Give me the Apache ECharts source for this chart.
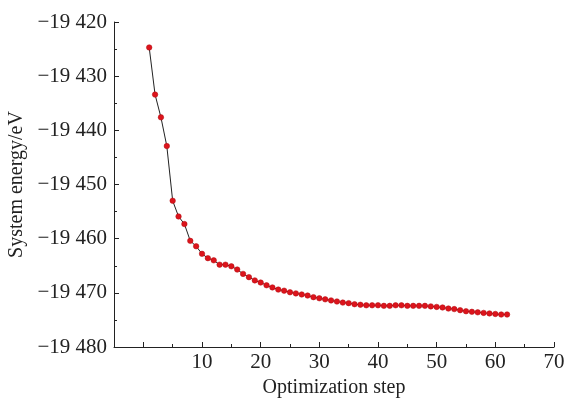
<!DOCTYPE html>
<html>
<head>
<meta charset="utf-8">
<script src="https://cdn.jsdelivr.net/npm/echarts@6/dist/echarts.min.js"></script>
<style>
  html, body { margin: 0; padding: 0; background: #fff; }
  #chart { width: 569px; height: 399px; }
</style>
</head>
<body>
<div id="chart"></div>
<script>
// optimization steps 1..62
const steps = [
  1, 2, 3, 4, 5, 6, 7, 8, 9, 10,
  11, 12, 13, 14, 15, 16, 17, 18, 19, 20,
  21, 22, 23, 24, 25, 26, 27, 28, 29, 30,
  31, 32, 33, 34, 35, 36, 37, 38, 39, 40,
  41, 42, 43, 44, 45, 46, 47, 48, 49, 50,
  51, 52, 53, 54, 55, 56, 57, 58, 59, 60,
  61, 62
]
// system energy, eV
const energy = [
  -19424.7, -19433.4, -19437.6, -19442.9, -19453.0, -19455.9, -19457.3, -19460.4, -19461.4, -19462.8,
  -19463.6, -19464.0, -19464.8, -19464.8, -19465.1, -19465.7, -19466.5, -19467.1, -19467.7, -19468.1,
  -19468.6, -19469.0, -19469.4, -19469.6, -19469.9, -19470.1, -19470.3, -19470.5, -19470.8, -19471.0,
  -19471.2, -19471.4, -19471.6, -19471.8, -19471.9, -19472.1, -19472.2, -19472.3, -19472.3, -19472.3,
  -19472.4, -19472.4, -19472.3, -19472.3, -19472.4, -19472.4, -19472.4, -19472.4, -19472.5, -19472.6,
  -19472.7, -19472.9, -19473.0, -19473.2, -19473.4, -19473.5, -19473.6, -19473.7, -19473.8, -19473.9,
  -19474.0, -19474.0
]
const xMajorTicks = [0, 10, 20, 30, 40, 50, 60, 70]
const xMinorTicks = [5, 15, 25, 35, 45, 55, 65]
const xLabels = [10, 20, 30, 40, 50, 60, 70]

const font = 'Liberation Serif'
const ink = '#222'

const fmtEnergy = (v) => {
  const a = Math.abs(Math.round(v)).toString()
  return '\u2212' + a.slice(0, 2) + ' ' + a.slice(2)
}

const chart = echarts.init(document.getElementById('chart'), null, { renderer: 'canvas' })
chart.setOption({
  animation: false,
  backgroundColor: '#fff',
  grid: { left: 114, right: 15, top: 22, bottom: 52, containLabel: false, outerBoundsMode: 'none' },
  xAxis: [
    {
      type: 'value',
      min: -5,
      max: 70,
      name: 'Optimization step',
      nameLocation: 'middle',
      nameGap: 28,
      nameTextStyle: { fontFamily: font, fontSize: 20, color: ink },
      axisLine: { show: true, onZero: false, lineStyle: { color: ink, width: 1 } },
      axisTick: { show: true, inside: true, length: 5, customValues: xMajorTicks, lineStyle: { color: ink } },
      axisLabel: { fontFamily: font, fontSize: 21, color: ink, margin: 5, customValues: xLabels },
      splitLine: { show: false },
    },
    {
      type: 'value',
      min: -5,
      max: 70,
      position: 'bottom',
      axisLine: { show: false },
      axisTick: { show: true, inside: true, length: 3, customValues: xMinorTicks, lineStyle: { color: ink } },
      axisLabel: { show: false },
      splitLine: { show: false },
    },
  ],
  yAxis: {
    type: 'value',
    min: -19480,
    max: -19420,
    interval: 10,
    name: 'System energy/eV',
    nameLocation: 'middle',
    nameGap: 74,
    nameRotate: 90,
    nameTextStyle: { fontFamily: font, fontSize: 20, color: ink },
    axisLine: { show: true, onZero: false, lineStyle: { color: ink, width: 1 } },
    axisTick: { show: true, inside: true, length: 5, lineStyle: { color: ink } },
    minorTick: { show: true, splitNumber: 2, length: 3, lineStyle: { color: ink } },
    axisLabel: { fontFamily: font, fontSize: 21, color: ink, margin: 7, formatter: fmtEnergy },
    splitLine: { show: false },
    minorSplitLine: { show: false },
  },
  series: [
    {
      type: 'line',
      xAxisIndex: 0,
      data: steps.map((s, i) => [s, energy[i]]),
      symbol: 'circle',
      symbolSize: 5.5,
      lineStyle: { color: '#222', width: 1 },
      itemStyle: { color: '#dc141c', borderColor: '#b00c10', borderWidth: 0.5 },
    },
  ],
})
</script>
</body>
</html>
